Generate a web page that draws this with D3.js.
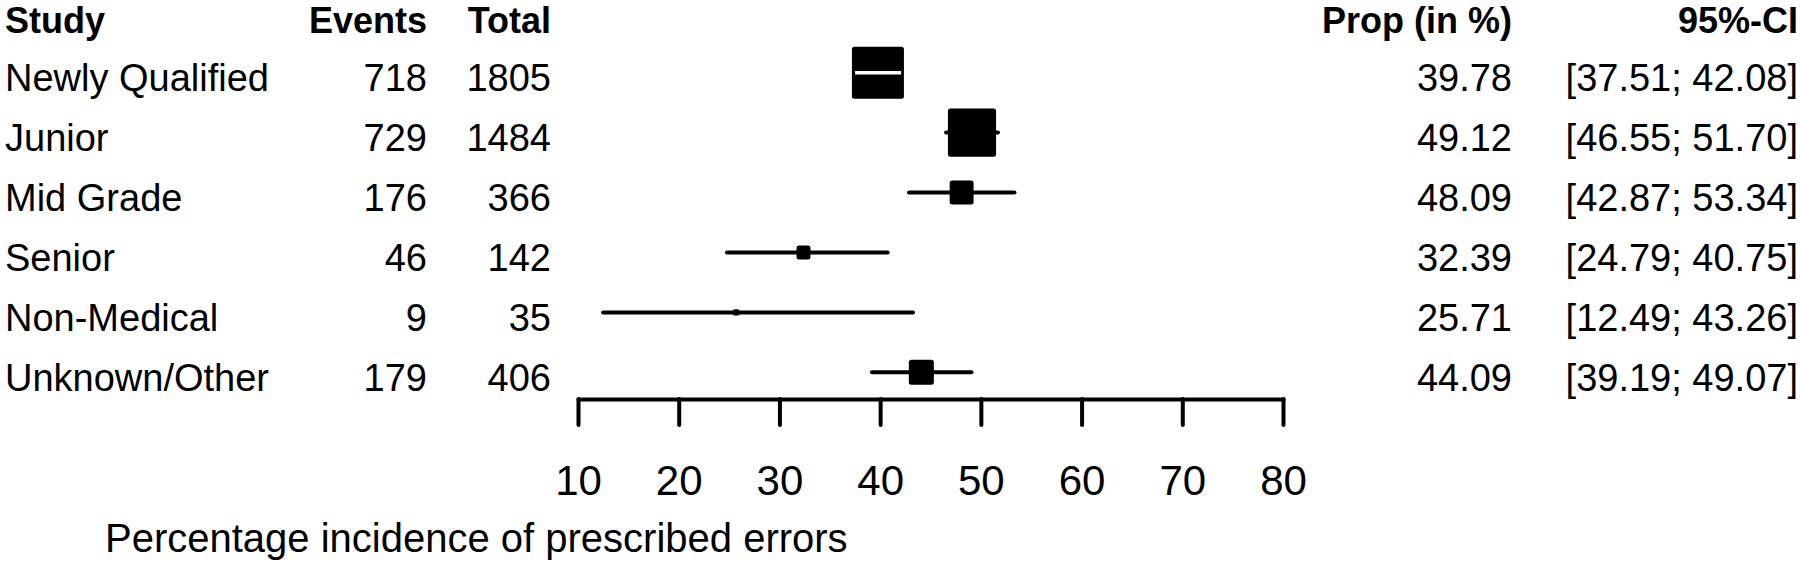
<!DOCTYPE html>
<html>
<head>
<meta charset="utf-8">
<script src="https://cdn.jsdelivr.net/npm/d3@7"></script>
<style>
  html, body { margin: 0; padding: 0; background: #fff; }
  svg { display: block; }
  text { font-family: "Liberation Sans", Arial, sans-serif; fill: #000; }
</style>
</head>
<body>
<svg id="chart" width="1800" height="564"></svg>
<script>
// ---- data ----
const studies  = ["Newly Qualified", "Junior", "Mid Grade", "Senior", "Non-Medical", "Unknown/Other"];
const events   = [718, 729, 176, 46, 9, 179];
const totals   = [1805, 1484, 366, 142, 35, 406];
const props    = [39.78, 49.12, 48.09, 32.39, 25.71, 44.09];
const ciLower  = [37.51, 46.55, 42.87, 24.79, 12.49, 39.19];
const ciUpper  = [42.08, 51.70, 53.34, 40.75, 43.26, 49.07];
const xTicks   = [10, 20, 30, 40, 50, 60, 70, 80];
const headers  = ["Study", "Events", "Total", "Prop (in %)", "95%-CI"];
const xTitle   = "Percentage incidence of prescribed errors";

const rows = studies.map((s, i) => ({
  study: s, events: events[i], total: totals[i], prop: props[i],
  lo: ciLower[i], hi: ciUpper[i],
  // logit-scale inverse-variance weight
  w: events[i] * (totals[i] - events[i]) / totals[i]
}));

const svg = d3.select("#chart");

const x = d3.scaleLinear().domain([10, 80]).range([578, 1283]);
const y = d3.scalePoint().domain(studies).range([72.7, 372.3]);
const box = d3.scaleSqrt().domain([0, d3.max(rows, d => d.w)]).range([0, 52]);

const fs = 38;
const headerY = 33;
const textDy = 18.5;

// column definitions
const cols = [
  { key: "study",  x: 5,    anchor: "start", fmt: d => d.study },
  { key: "events", x: 427,  anchor: "end",   fmt: d => d.events },
  { key: "total",  x: 551,  anchor: "end",   fmt: d => d.total },
  { key: "prop",   x: 1512, anchor: "end",   fmt: d => d.prop.toFixed(2) },
  { key: "ci",     x: 1798, anchor: "end",   fmt: d => "[" + d.lo.toFixed(2) + "; " + d.hi.toFixed(2) + "]" }
];

// headers
svg.append("g").selectAll("text").data(cols).join("text")
  .attr("x", c => c.x).attr("y", headerY)
  .attr("text-anchor", c => c.anchor)
  .style("font-size", "36px").style("font-weight", "bold")
  .text((c, i) => headers[i]);

// row texts
cols.forEach(c => {
  svg.append("g").selectAll("text").data(rows).join("text")
    .attr("x", c.x).attr("y", d => y(d.study) + textDy)
    .attr("text-anchor", c.anchor)
    .style("font-size", fs + "px")
    .text(c.fmt);
});

// CI lines and boxes
const g = svg.append("g");
rows.forEach(d => {
  const cx = x(d.prop), cy = y(d.study), s = box(d.w);
  const inside = x(d.lo) >= cx - s / 2 && x(d.hi) <= cx + s / 2;
  if (!inside) {
    g.append("line")
      .attr("x1", x(d.lo)).attr("x2", x(d.hi))
      .attr("y1", cy).attr("y2", cy)
      .attr("stroke", "#000").attr("stroke-width", 4)
      .attr("stroke-linecap", "round");
  }
  g.append("rect")
    .attr("x", cx - s / 2).attr("y", cy - s / 2)
    .attr("width", s).attr("height", s)
    .attr("rx", Math.min(2.5, s / 4))
    .attr("fill", "#000");
  if (inside) {
    g.append("line")
      .attr("x1", x(d.lo)).attr("x2", x(d.hi))
      .attr("y1", cy).attr("y2", cy)
      .attr("stroke", "#fff").attr("stroke-width", 3.5);
  }
});

// x axis
const axisY = 399;
const axisG = svg.append("g")
  .attr("transform", `translate(0,${axisY})`)
  .call(d3.axisBottom(x).tickValues(xTicks).tickSize(26).tickSizeOuter(0).tickFormat(d3.format("d")));
axisG.select(".domain").attr("stroke", "#000").attr("stroke-width", 4).attr("stroke-linecap", "round");
axisG.selectAll(".tick line").attr("stroke", "#000").attr("stroke-width", 4).attr("stroke-linecap", "round");
axisG.selectAll(".tick text")
  .attr("y", 96).attr("dy", 0)
  .style("font-size", "42px")
  .style("font-family", '"Liberation Sans", Arial, sans-serif')
  .attr("fill", "#000");

// x title
svg.append("text")
  .attr("x", 105).attr("y", 552)
  .style("font-size", "40px")
  .text(xTitle);
</script>
</body>
</html>
